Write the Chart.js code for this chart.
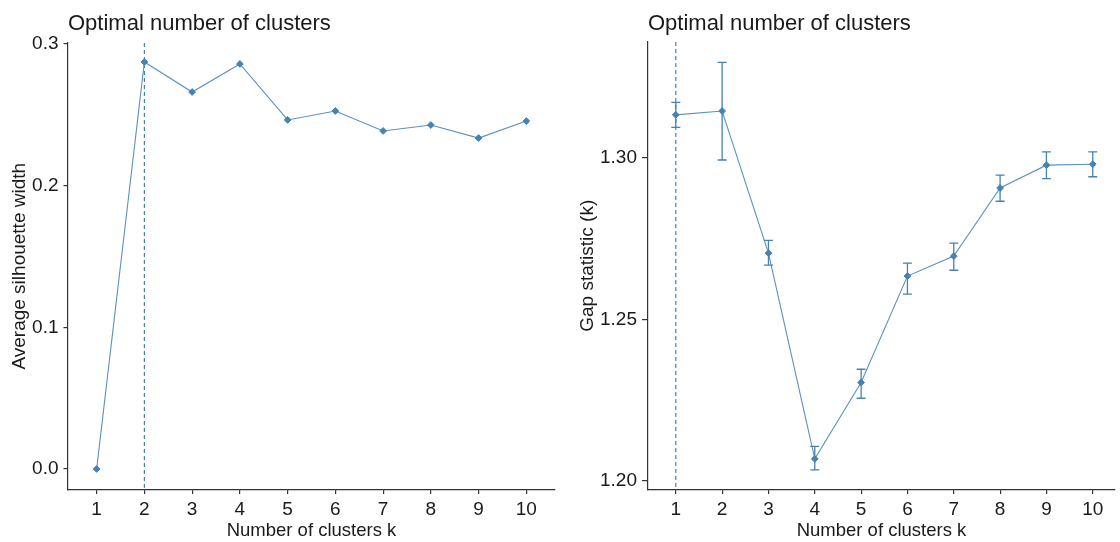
<!DOCTYPE html>
<html>
<head>
<meta charset="utf-8">
<script src="https://cdn.jsdelivr.net/npm/chart.js@4/dist/chart.umd.min.js"></script>
<style>
  body { margin: 0; background: #fff; }
  .wrap { position: absolute; top: 0; width: 560px; height: 542px; }
</style>
</head>
<body>
<div class="wrap" style="left:0"><canvas id="silChart" width="560" height="542"></canvas></div>
<div class="wrap" style="left:560px"><canvas id="gapChart" width="560" height="542"></canvas></div>
<script>
const kValues = [1, 2, 3, 4, 5, 6, 7, 8, 9, 10];
const silhouette = [0, 0.2873, 0.2661, 0.2859, 0.2464, 0.2527, 0.2386, 0.2428, 0.2336, 0.2456];
const gapStat = [1.3134, 1.3146, 1.2705, 1.2067, 1.2304, 1.2634, 1.2696, 1.2907, 1.2978, 1.2981];
const gapLow = [1.3095, 1.2994, 1.2668, 1.2033, 1.2255, 1.2578, 1.2652, 1.2866, 1.2936, 1.2942];
const gapHigh = [1.3173, 1.3297, 1.2745, 1.2106, 1.2345, 1.2674, 1.2736, 1.2947, 1.3019, 1.3019];
const silTicks = [0, 0.1, 0.2, 0.3];
const gapTicks = [1.2, 1.25, 1.3];
const silBestK = 2;
const gapBestK = 1;

const blue = "#4682B4";
const lineBlue = "#5a91c2";
const ink = "#1a1a1a";
const fontFamily = "'Liberation Sans', Arial, sans-serif";

// title drawn at the left edge of the plot area, like ggplot
const plotTitle = {
  id: "plotTitle",
  afterDraw(chart, args, opts) {
    const ctx = chart.ctx;
    ctx.save();
    ctx.fillStyle = ink;
    ctx.font = "22px " + fontFamily;
    ctx.textBaseline = "alphabetic";
    ctx.fillText(opts.text, chart.chartArea.left, 30);
    ctx.restore();
  },
};

// dashed vertical line at the optimal k
const bestLine = {
  id: "bestLine",
  beforeDatasetsDraw(chart, args, opts) {
    const x = chart.scales.x.getPixelForValue(opts.k);
    const { top, bottom } = chart.chartArea;
    const ctx = chart.ctx;
    ctx.save();
    ctx.strokeStyle = blue;
    ctx.lineWidth = 1.2;
    ctx.setLineDash([4, 3]);
    ctx.beginPath();
    ctx.moveTo(x, top);
    ctx.lineTo(x, bottom);
    ctx.stroke();
    ctx.restore();
  },
};

// error bars for the gap statistic
const errorBars = {
  id: "errorBars",
  afterDatasetsDraw(chart, args, opts) {
    if (!opts.low) return;
    const xs = chart.scales.x, ys = chart.scales.y;
    const ctx = chart.ctx;
    ctx.save();
    ctx.strokeStyle = blue;
    ctx.lineWidth = 1.3;
    opts.low.forEach((lo, i) => {
      const x = xs.getPixelForValue(kValues[i]);
      const y1 = ys.getPixelForValue(lo);
      const y2 = ys.getPixelForValue(opts.high[i]);
      ctx.beginPath();
      ctx.moveTo(x, y1); ctx.lineTo(x, y2);
      ctx.moveTo(x - 4.5, y1); ctx.lineTo(x + 4.5, y1);
      ctx.moveTo(x - 4.5, y2); ctx.lineTo(x + 4.5, y2);
      ctx.stroke();
    });
    ctx.restore();
  },
};

function makeChart(id, cfg) {
  return new Chart(document.getElementById(id), {
    type: "line",
    data: {
      datasets: [{
        data: kValues.map((k, i) => ({ x: k, y: cfg.values[i] })),
        borderColor: lineBlue,
        backgroundColor: blue,
        borderWidth: 1.1,
        pointStyle: "rectRot",
        pointRadius: 3.4,
        pointBorderWidth: 1,
        pointBorderColor: blue,
        pointBackgroundColor: blue,
        tension: 0,
      }],
    },
    options: {
      responsive: false,
      animation: false,
      layout: { padding: { top: cfg.top, right: cfg.right, left: 0, bottom: 0 } },
      plugins: {
        legend: { display: false },
        tooltip: { enabled: false },
        plotTitle: { text: "Optimal number of clusters" },
        bestLine: { k: cfg.bestK },
        errorBars: { low: cfg.low, high: cfg.high },
      },
      scales: {
        x: {
          type: "linear",
          min: 0.4,
          max: cfg.xMax,
          afterBuildTicks: (s) => { s.ticks = kValues.map((v) => ({ value: v })); },
          afterFit: (s) => { s.height = 52.5; },
          ticks: { autoSkip: false, maxRotation: 0, padding: 4, color: ink, font: { family: fontFamily, size: 19 } },
          grid: { drawOnChartArea: false, drawTicks: true, tickLength: 4.5, color: "#333", lineWidth: 1.2 },
          border: { color: "#333", width: 1.2 },
          title: { display: true, text: "Number of clusters k", color: ink, padding: { top: 0, bottom: 0 }, font: { family: fontFamily, size: 18.5 } },
        },
        y: {
          min: cfg.yMin,
          max: cfg.yMax,
          afterBuildTicks: (s) => { s.ticks = cfg.ticks.map((v) => ({ value: v })); },
          afterFit: (s) => { s.width = cfg.yWidth; },
          ticks: { padding: 5, color: ink, font: { family: fontFamily, size: 19 }, callback: (v) => v.toFixed(cfg.decimals) },
          grid: { drawOnChartArea: false, drawTicks: true, tickLength: cfg.tickLen, color: "#333", lineWidth: 1.2 },
          border: { color: "#333", width: 1.2 },
          title: { display: true, text: cfg.yTitle, color: ink, padding: { top: cfg.titlePad, bottom: 0 }, font: { family: fontFamily, size: 19 } },
        },
      },
    },
    plugins: [plotTitle, bestLine, errorBars],
  });
}

makeChart("silChart", {
  values: silhouette,
  ticks: silTicks,
  decimals: 1,
  yMin: -0.0145,
  yMax: 0.3007,
  xMax: 10.6,
  yWidth: 68,
  top: 43,
  right: 1.5,
  tickLen: 4.5,
  titlePad: 8,
  bestK: silBestK,
  yTitle: "Average silhouette width",
});

makeChart("gapChart", {
  values: gapStat,
  low: gapLow,
  high: gapHigh,
  ticks: gapTicks,
  decimals: 2,
  yMin: 1.1972,
  yMax: 1.336,
  xMax: 10.48,
  yWidth: 88,
  top: 42,
  right: 0,
  tickLen: 6,
  titlePad: 16,
  bestK: gapBestK,
  yTitle: "Gap statistic (k)",
});
</script>
</body>
</html>
